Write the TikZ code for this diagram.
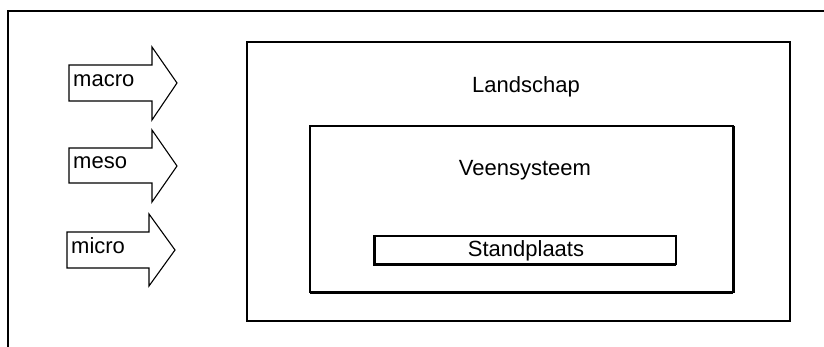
\documentclass[tikz,border=0pt]{standalone}
\usepackage{fontspec}
\setmainfont{Liberation Sans}
\begin{document}
\begin{tikzpicture}[x=1pt,y=-1pt,
  lbl/.style={inner sep=0pt,font=\fontsize{22}{26}\selectfont},
  framebox/.style={line width=1.3pt},
  levelbox/.style={line width=2pt},
  bigarrow/.style={line width=1.1pt,line join=miter}]
\useasboundingbox (0,0) rectangle (824,347);

% open outer frame
\draw[framebox] (8,347) -- (8,11) -- (824,11);

% nested level boxes
\draw[levelbox] (247,42) rectangle (790,321);
\node[lbl,anchor=base] (land) at (526,93) {Landschap};

\draw[levelbox] (310,126) rectangle (733,292);
\draw[line width=3pt] (310,292.5) -- (733,292.5) (733,126) -- (733,292.5);
\node[lbl,anchor=base] (veen) at (525,176) {Veensysteem};

\draw[line width=1.6pt] (374,236) rectangle (676,264);
\draw[line width=3pt] (374,235) -- (374,264.5) -- (676,264.5);
\node[lbl,anchor=base] (stand) at (526,257) {Standplaats};

% scale arrows
\draw[bigarrow] (69,65) -- (152,65) -- (152,47) -- (177,83) -- (152,120) -- (152,101) -- (69,101) -- cycle;
\node[lbl,anchor=base west] (macro) at (73,87) {macro};

\draw[bigarrow] (69,148) -- (152,148) -- (152,130) -- (177,166) -- (152,202) -- (152,183) -- (69,183) -- cycle;
\node[lbl,anchor=base west] (meso) at (73,169) {meso};

\draw[bigarrow] (67,232) -- (149,232) -- (149,214) -- (175,250) -- (149,286) -- (149,268) -- (67,268) -- cycle;
\node[lbl,anchor=base west] (micro) at (71,254) {micro};
\end{tikzpicture}
\end{document}
